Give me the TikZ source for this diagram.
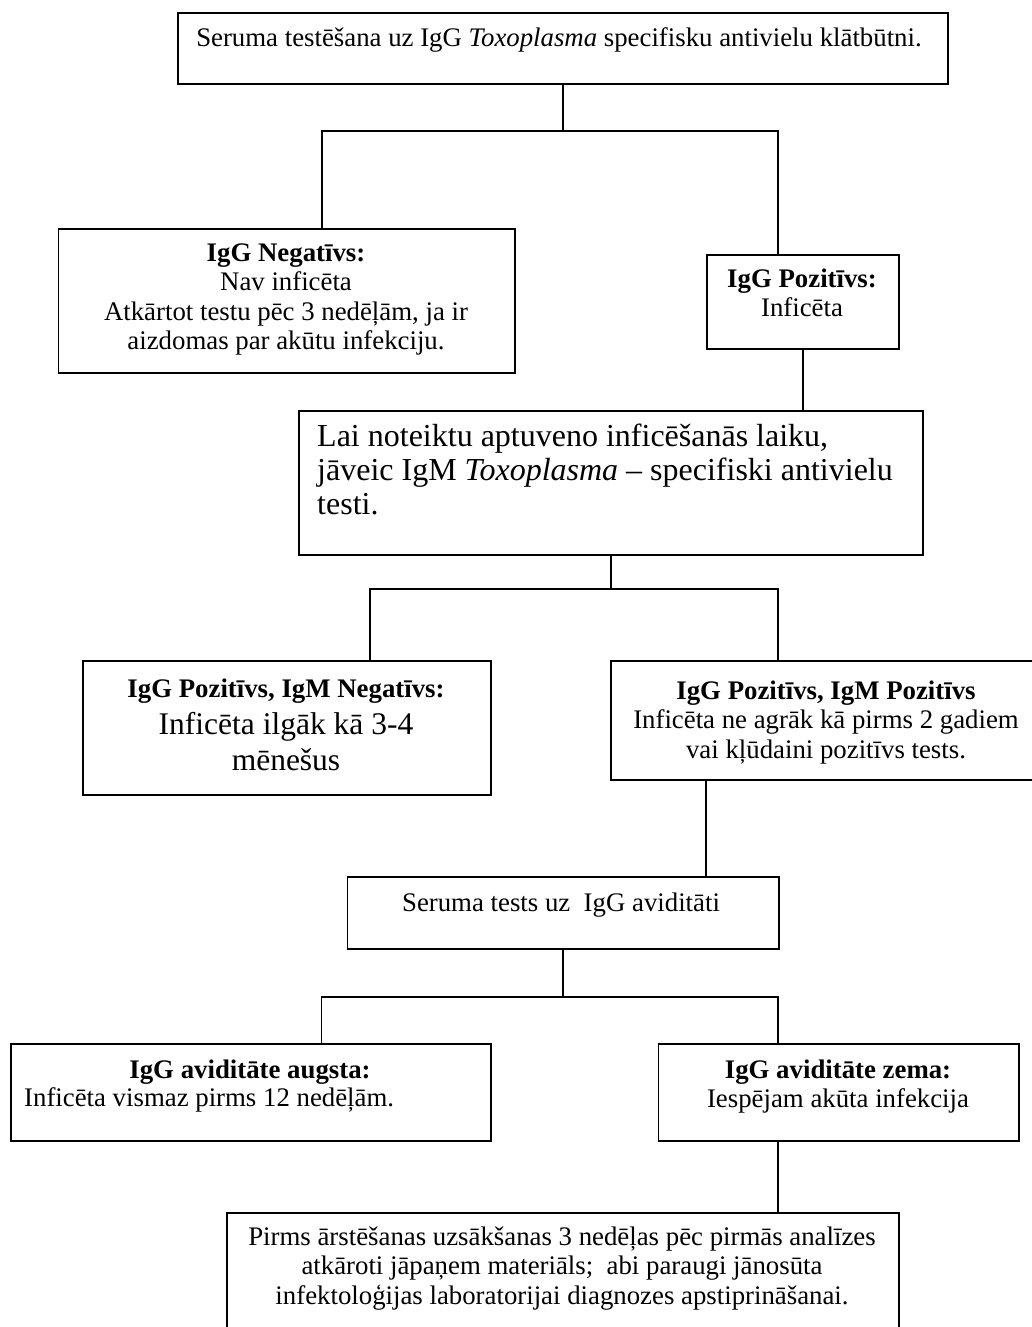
\documentclass[tikz,border=0pt]{standalone}
\usepackage{fontspec}
\setmainfont{Liberation Serif}
\newcommand\ftA{\fontsize{26.8}{29.4}\selectfont}
\newcommand\ftB{\fontsize{31.5}{36}\selectfont}
\newcommand\ftC{\fontsize{32}{34.2}\selectfont}
\newcommand\tp[1]{\rule{0pt}{#1pt}}
\begin{document}
\begin{tikzpicture}[x=1pt,y=-1pt,
  box/.style={draw, line width=1.8pt, inner sep=0pt, anchor=north west},
  wire/.style={line width=1.4pt},
  txt/.style={inner sep=0pt, align=center, font=\ftA}]
\useasboundingbox (0,0) rectangle (1031,1327);
\fill[white] (0,0) rectangle (1031,1327);
% boxes
\node[box, minimum width=770, minimum height=71] (top) at (177,12) {};
\node[box, minimum width=456.4, minimum height=144] (neg) at (57.6,228) {};
\node[box, minimum width=192, minimum height=94] (poz) at (706,254) {};
\node[box, minimum width=624, minimum height=144] (lai) at (298,410) {};
\node[box, minimum width=408, minimum height=134] (mneg) at (82,660) {};
\node[box, minimum width=432, minimum height=119] (mpos) at (610,660) {};
\node[box, minimum width=431.5, minimum height=72] (ser) at (346.5,876) {};
\node[box, minimum width=480, minimum height=97] (avl) at (10,1043) {};
\node[box, minimum width=360.5, minimum height=97] (avr) at (657.5,1043) {};
\node[box, minimum width=672, minimum height=130] (fin) at (226,1212) {};
% junction coordinates
\coordinate (j1l) at (322,131);
\coordinate (j1r) at (778,131);
\coordinate (j2l) at (370,589);
\coordinate (j2r) at (778,589);
\coordinate (k3) at (706,800);
\coordinate (j3l) at (321.5,997);
\coordinate (j3r) at (778,997);
% connectors
\draw[wire] (top.south) -- (top.south |- j1l);
\draw[wire] (neg.north -| j1l) |- (j1r) -- (poz.north -| j1r);
\draw[wire] (poz.south) -- (poz.south |- lai.north);
\draw[wire] (lai.south) -- (lai.south |- j2l);
\draw[wire] (mneg.north -| j2l) |- (j2r) -- (mpos.north -| j2r);
\draw[wire] (mpos.south -| k3) -- (ser.north -| k3);
\draw[wire] (ser.south) -- (ser.south |- j3l);
\draw[wire] (avl.north -| j3l) |- (j3r) -- (avr.north -| j3r);
\draw[wire] (avr.south -| j3r) -- (fin.north -| j3r);
% texts
\node[txt, anchor=base] (t-top) at (559,47) {Seruma testēšana uz IgG \textit{Toxoplasma} specifisku antivielu klātbūtni.};
\node[txt, anchor=north] (t-neg) at (286,241) {\tp{20}\textbf{IgG Negatīvs:}\\Nav inficēta\\Atkārtot testu pēc 3 nedēļām, ja ir\\aizdomas par akūtu infekciju.};
\node[txt, anchor=north] (t-poz) at (802,267) {\tp{20}\textbf{IgG Pozitīvs:}\\Inficēta};
\node[txt, anchor=north west, align=left, font=\ftC] (t-lai) at (317,422) {\tp{24}Lai noteiktu aptuveno inficēšanās laiku,\\jāveic IgM \textit{Toxoplasma} – specifiski antivielu\\testi.};
\node[txt, anchor=base] (t-mneg1) at (286,697) {\textbf{IgG Pozitīvs, IgM Negatīvs:}};
\node[txt, anchor=north, font=\ftB] (t-mneg2) at (286,710) {\tp{24}Inficēta ilgāk kā 3-4\\mēnešus};
\node[txt, anchor=north] (t-mpos) at (826,679) {\tp{20}\textbf{IgG Pozitīvs, IgM Pozitīvs}\\Inficēta ne agrāk kā pirms 2 gadiem\\vai kļūdaini pozitīvs tests.};
\node[txt, anchor=base] (t-ser) at (561,911) {Seruma tests uz\ \ IgG aviditāti};
\node[txt, anchor=base] (t-avl1) at (250,1078) {\textbf{IgG aviditāte augsta:}};
\node[txt, anchor=base west] (t-avl2) at (24,1106) {Inficēta vismaz pirms 12 nedēļām.};
\node[txt, anchor=north] (t-avr) at (838,1058) {\tp{20}\textbf{IgG aviditāte zema:}\\Iespējam akūta infekcija};
\node[txt, anchor=north] (t-fin) at (562,1225) {\tp{20}Pirms ārstēšanas uzsākšanas 3 nedēļas pēc pirmās analīzes\\atkāroti jāpaņem materiāls;\ \ abi paraugi jānosūta\\infektoloģijas laboratorijai diagnozes apstiprināšanai.};
\end{tikzpicture}
\end{document}
